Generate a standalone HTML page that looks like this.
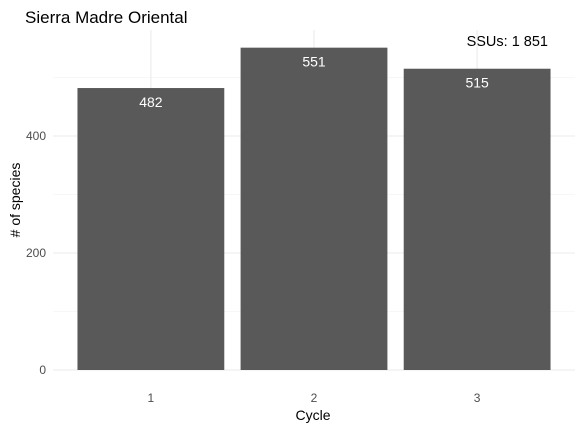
<!DOCTYPE html>
<html><head><meta charset="utf-8"><style>
body{margin:0;background:#fff;}
svg{display:block;font-family:"Liberation Sans",sans-serif;}
</style></head><body>
<svg id="chart" width="582" height="431">
<text x="25" y="23" font-size="17" fill="#000">Sierra Madre Oriental</text>
<text x="548" y="46" font-size="14.5" fill="#000" text-anchor="end">SSUs: 1 851</text>
<g id="grid"></g><g id="bars"></g><g id="axes"></g>
<text x="313" y="420" font-size="14" text-anchor="middle">Cycle</text>
<text transform="translate(20,200) rotate(-90)" font-size="14" text-anchor="middle"># of species</text>
</svg>
<script>
const categories=["1","2","3"];
const values=[482,551,515];
const yTicks=[0,200,400];
const yMinor=[100,300,500];
const ns="http://www.w3.org/2000/svg";
const L=53,R=575,Y0=370,k=0.585;
const band=(R-L)/3.2;
const y=v=>Y0-v*k;
const x=i=>L+band*(i+0.6);
function mk(t,a,p){const e=document.createElementNS(ns,t);for(const n in a)e.setAttribute(n,a[n]);p.appendChild(e);return e;}
const g=document.getElementById('grid'),b=document.getElementById('bars'),ax=document.getElementById('axes');
yMinor.forEach(v=>{const l=mk('line',{x1:L,x2:R,y1:y(v),y2:y(v),stroke:'#f0f0f0','stroke-width':0.6},g);

});
yTicks.forEach(v=>{const l=mk('line',{x1:L,x2:R,y1:y(v),y2:y(v),stroke:'#ebebeb','stroke-width':1.1},g);


const t=mk('text',{x:46,y:y(v)+4,'font-size':12,fill:'#4d4d4d','text-anchor':'end'},ax);t.textContent=v;

});
categories.forEach((c,i)=>{const l=mk('line',{x1:x(i),x2:x(i),y1:30,y2:Y0,stroke:'#ebebeb','stroke-width':1.1},g);


const w=band*0.9;
const r=mk('rect',{x:x(i)-w/2,y:y(values[i]),width:w,height:values[i]*k,fill:'#595959'},b);


const t=mk('text',{x:x(i),y:y(values[i])+19,'font-size':14,fill:'#fff','text-anchor':'middle'},b);t.textContent=values[i];


const xt=mk('text',{x:x(i),y:402,'font-size':12,fill:'#4d4d4d','text-anchor':'middle'},ax);xt.textContent=c;

});
</script>
</body></html>
